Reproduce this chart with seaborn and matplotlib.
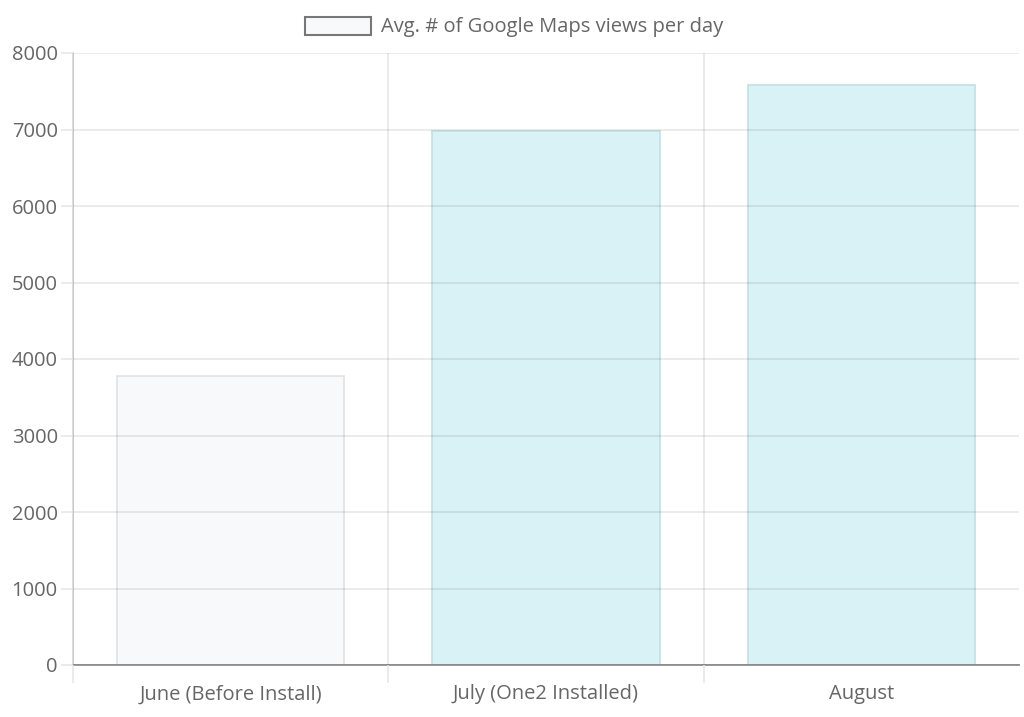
import matplotlib
matplotlib.use("Agg")
import matplotlib.pyplot as plt
import seaborn as sns
import pandas as pd
from matplotlib.patches import Patch

months = ["June (Before Install)", "July (One2 Installed)", "August"]
views = [3780, 6985, 7585]
fill_colors = ["#f8f9fb", "#d9f2f6", "#d9f2f6"]
edge_colors = ["#e0e1e4", "#c2dfe3", "#c2dfe3"]
y_ticks = [0, 1000, 2000, 3000, 4000, 5000, 6000, 7000, 8000]
legend_label = "Avg. # of Google Maps views per day"

df = pd.DataFrame({"month": months, "views": views})

sns.set_style("white")
plt.rcParams["font.family"] = ["Open Sans", "DejaVu Sans"]

fig = plt.figure(figsize=(10.24, 7.17), dpi=100)
ax = fig.add_axes([73 / 1024, (717 - 665) / 717, (1019 - 73) / 1024, (665 - 53) / 717])

sns.barplot(data=df, x="month", y="views", hue="month", palette=fill_colors,
            saturation=1, width=0.72, legend=False, ax=ax)
for bar, ec in zip(ax.patches, edge_colors):
    bar.set_edgecolor(ec)
    bar.set_linewidth(1.2)

ax.set_xlim(-0.5, 2.5)
ax.set_ylim(0, 8000)
ax.set_yticks(y_ticks)
ax.set_xticks([0, 1, 2])
# grid lines between categories (none at the right edge)
ax.set_xticks([-0.5, 0.5, 1.5], minor=True)
ax.set_xlabel("")
ax.set_ylabel("")
ax.set_axisbelow(False)

tick_c = "#e6e6e6"
ax.tick_params(axis="y", length=9, width=1.1, color=tick_c, labelcolor="#666666",
               labelsize=14.5, pad=2, left=True)
ax.tick_params(axis="x", which="major", length=0, labelcolor="#666666", labelsize=14.5, pad=14)
ax.tick_params(axis="x", which="minor", length=13, width=1.1, color=tick_c, bottom=True)
ax.yaxis.grid(True, color="black", alpha=0.1, linewidth=1.1)
ax.xaxis.grid(True, which="minor", color="black", alpha=0.1, linewidth=1.1)
ax.xaxis.grid(False, which="major")

for s in ["top", "right"]:
    ax.spines[s].set_visible(False)
ax.spines["left"].set_color("#d3d3d3")
ax.spines["left"].set_linewidth(1.1)
ax.spines["bottom"].set_color("#999999")
ax.spines["bottom"].set_linewidth(1.4)

handle = Patch(facecolor="#f8f9fb", edgecolor="#777777", linewidth=1.5)
fig.legend([handle], [legend_label], loc="center", bbox_to_anchor=(0.502, 1 - 27 / 717),
           frameon=False, fontsize=14.5, labelcolor="#666666",
           handlelength=3.3, handleheight=1.0, handletextpad=0.5)

fig.savefig("out.png", dpi=100)
